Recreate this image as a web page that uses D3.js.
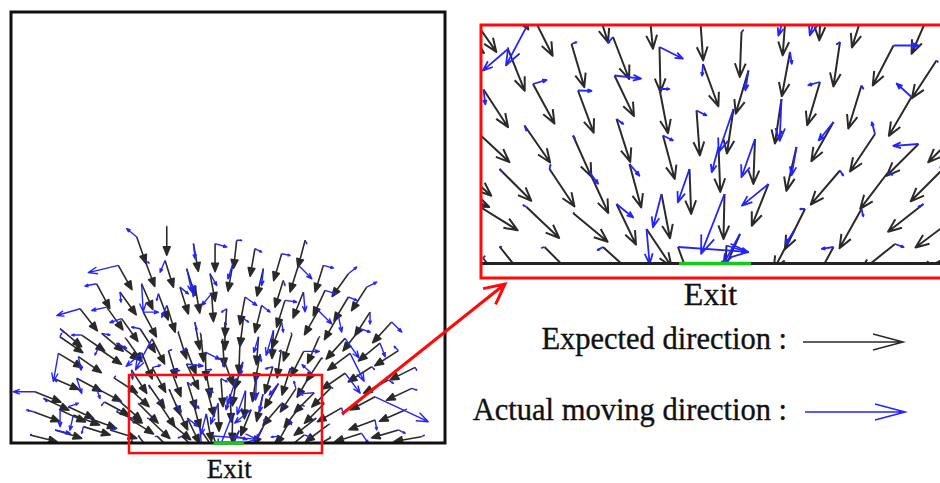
<!DOCTYPE html>
<html>
<head>
<meta charset="utf-8">
<script src="https://cdn.jsdelivr.net/npm/d3@7"></script>
<style>
  body { margin: 0; background: #fff; }
  text { font-family: "Liberation Serif", "Times New Roman", serif; fill: #111; stroke: #111; stroke-width: 0.35px; }
</style>
</head>
<body>
<script>
// Each agent row: [x, y, expectedU, expectedV, actualU, actualV]
// Room units: exit centre at x = 103, wall at y = 0, y grows away from the wall.
// Expected direction is normalised; actual vectors are in units where one expected step = 10.
const agentsNearExitWest = [
  [54.3, 49.7, 35, -50, -0.3, 0.2], [66.7, 49.6, 30, -60, -5.9, -11.1], [61.8, 42.9, 50, -125, -5.6, -4.8],
  [74.5, 43.9, 40, -135, 1.1, 0.4], [82.8, 45.3, 50, -130, -1.1, -1.3], [79.1, 52.8, 30, -95, 0.2, 0.1],
  [89.9, 51.9, 10, -100, -0.2, 0.3], [92.1, 43.3, 3, -135, 5.2, -2.6], [100.2, 49.6, 7, -100, 0.1, -0.2],
  [56.9, 34.8, 75, -115, 0.4, -3.3], [66.8, 35.9, 65, -120, 3.0, 0.9], [75.8, 34.6, 50, -135, 3.0, -0.1],
  [83.1, 37.6, 60, -125, 5.9, -0.7], [92.1, 34.9, 25, -130, 2.2, 0], [100.8, 39.9, 51, -140, -0.2, -2.6],
  [55.5, 26.4, 73, -68, 0.6, 0.6], [65.1, 27.6, 90, -130, 0.4, -1.1], [74.8, 25.6, 60, -135, 0.4, -0.6],
  [78.1, 18.3, 55, -120, 1.9, -2.6], [83.5, 28.9, 40, -125, 1.5, -1.1], [86.1, 19.9, 35, -130, 2.2, -2.6],
  [92.8, 25.6, 35, -130, 2.2, -1.1], [99.5, 30.6, 10, -135, 2.2, -1.1], [98.1, 18.9, 5, -135, -2.6, -7.4],
  [51.7, 19.5, 75, -66, -1.2, 0.6], [60.1, 18.9, 100, -100, 0.4, -0.4], [70.1, 18.9, 80, -120, 0.2, 0.9],
  [56.1, 11.4, 85, -53, 0.8, 0.4], [65.5, 11.3, 95, -90, -0.7, 0.4], [74.8, 10.1, 105, -87, 0.2, 0],
  [83.5, 11.9, 60, -125, 3.7, -3.0], [92.5, 13.9, 25, -130, -1.9, -7.4], [60.1, 3.4, 62, -78, 0.4, -0.1],
  [69.1, 3.3, 70, -70, -0.6, -0.2], [80.8, 3.3, 74, -67, -1.2, -0.7], [89.5, 6.9, 70, -105, 0.7, -7.8],
  [95.8, 3.3, 34, -94, 15.6, -1.1], [56.8, 1.1, 60, -80, 0.4, 0.4]
];

const agentsNearExitEast = [
  [105.1, 13.9, -3, -130, -5.2, -13.3], [109.9, 38.6, -40, -135, -0.7, -4.4], [106.9, 30.9, -20, -135, -3.3, -9.6],
  [103.9, 23.3, 5, -125, -1.5, -5.6], [111.2, 24.9, -5, -135, -3.0, -8.5], [113.9, 15.9, -50, -125, -5.9, -4.8],
  [118.2, 42.3, -25, -135, 0.4, -2.6], [116.5, 32.9, -20, -135, -0.4, -9.3], [119.5, 23.3, -30, -130, -1.1, -6.3],
  [124.2, 36.3, -40, -135, -2.6, -0.7], [126.9, 28.3, -65, -115, -3.3, -4.1], [128.2, 44.3, -20, -135, -0.7, -0.5],
  [132.5, 35.6, -40, -130, 0.4, -0.7], [128.2, 18.6, -90, -105, 0.7, -1.1], [121.2, 10.9, -60, -120, -1.1, 0],
  [119.1, 6.7, -55, -105, -1.9, -3.0], [135.2, 25.9, -80, -120, -0.7, 2.6], [132.5, 10.9, -70, -125, 0.4, -1.6],
  [126.9, 3.3, -60, -110, -2.6, -0.4], [138.9, 43.6, -65, -125, 5.6, 0], [146.1, 50.2, -40, -92, 0.3, 0.3],
  [133.3, 51.8, -30, -95, -0.3, 0.4], [124.5, 53.6, -5, -100, -2.6, -8.9], [117.4, 50.6, -10, -135, -1.7, -5.6],
  [108.5, 46.3, -5, -130, 0.4, 0.4], [147.5, 40.6, -75, -115, 0.3, -0.3], [142.5, 33.3, -70, -120, -3.3, 3.0],
  [143.9, 23.9, -90, -90, -5.6, -0.4], [152.2, 26.6, -95, -95, 0.4, -0.4], [137.7, 18.1, -80, -105, 1.1, -0.4],
  [148.7, 18.8, -85, -85, -0.5, 0.5], [144.9, 11.9, -115, -90, -1.1, -0.7], [139.2, 3.9, -100, -80, 1.9, -0.7],
  [150.5, 8.6, -80, -60, 0.5, 0.3], [151.9, 2.6, -90, -50, -0.4, 0.3], [108.2, 5.9, -40, -90, -3.7, -6.7],
  [105.5, 3.6, -5, -100, 4.8, -1.5]
];

const agentsUpper = [
  [59.4, 98.1, 28, -80, -3.6, 3.0], [63.3, 87.0, 30, -80, 1.5, -1.0], [50.6, 84.6, 45, -80, -10.7, -2.6],
  [40.3, 75.8, 40, -75, -4.2, -0.8], [51.4, 71.9, 50, -70, 0.4, -3.6], [61.7, 75.8, 35, -80, 0.6, -10],
  [62.5, 62.3, 40, -75, 5.4, 0], [32.4, 63.9, 55, -70, -8.3, -2.4], [45.1, 64.7, 50, -70, -5.4, -1.2],
  [22.9, 54.4, 60, -50, 1.2, -1.2], [52.2, 59.2, 50, -70, -4.2, -1.4], [61.0, 54.4, 45, -70, -3.0, 0.6],
  [73.7, 102.8, 0, -85, 0, 0.3], [86.4, 94.9, 15, -85, 0.6, -5.4], [96.7, 94.9, 0, -85, 4.2, -1.2],
  [107.0, 96.5, -10, -90, 1.8, 0], [115.7, 92.5, -15, -85, 2.4, -1.2], [128.4, 90.1, -25, -85, 3.0, -0.6],
  [72.9, 86.9, 25, -80, -1.8, -4.2], [83.2, 83.0, 25, -80, 1.8, -8.3], [94.3, 80.6, 15, -80, 2.4, -4.2],
  [105.2, 85.4, -15, -85, -1.8, -5.4], [119.7, 83.0, -20, -85, -0.6, -6.0], [129.2, 77.4, -25, -80, 0.6, -1.8],
  [69.7, 71.1, 30, -80, -0.6, -2.4], [80.0, 74.2, 25, -80, 3.0, -2.4], [95.1, 71.1, 5, -80, -3.6, -4.2],
  [87.1, 75.0, 15, -85, -0.6, -4.0], [111.0, 69.5, -15, -80, 4.2, -3.0], [102.2, 63.9, -5, -80, -1.8, -1.2],
  [118.9, 65.5, -20, -80, 3.0, -2.4], [130.0, 67.9, -25, -80, 4.2, -0.6], [73.7, 65.5, 25, -80, -1.8, -4.2],
  [110.2, 59.2, -10, -80, 1.8, -1.2], [87.1, 57.6, 15, -85, 0.6, -3.0], [101.4, 57.6, 0, -85, 0.5, -0.8],
  [128.4, 57.6, -30, -80, 0.6, -3.6], [139.6, 96.5, -20, -75, 0.6, -1.2], [136.4, 84.6, -25, -80, 4.8, -4.8],
  [148.3, 84.6, -25, -80, 3.6, -1.0], [160.2, 80.6, -50, -70, 3.0, 2.4], [168.9, 74.2, -45, -70, 3.6, 1.8],
  [149.1, 72.7, -35, -75, 3.6, -1.2], [160.2, 69.5, -45, -75, 3.0, -1.2], [138.8, 71.9, -30, -75, 0.6, -7.1],
  [145.9, 63.1, -40, -70, 4.8, -4.8], [155.4, 60.8, -40, -70, 1.2, -6.0], [170.5, 62.3, -45, -70, 0, -4.2],
  [180.8, 57.6, -55, -60, 3.6, -3.6], [165.8, 54.4, -50, -65, 3.6, -1.2]
];

const agentsWest = [
  [22.8, 50.6, 65, -45, 0.6, 1.2], [33.2, 51.4, 65, -45, -3.6, 0], [42.7, 52.2, 60, -50, 3.0, -0.6],
  [22.1, 42.7, 75, -45, -1.8, -10], [31.6, 41.1, 65, -45, 1.0, -4.8], [41.1, 45.1, 65, -45, -1.2, -2.4],
  [49.8, 47.5, 60, -45, 3.6, -1.8], [10.9, 24.4, 75, -30, -7.7, 0], [19.7, 30.8, 80, -35, 1.2, -1.2],
  [30.8, 30.8, 75, -40, 1.8, -5.4], [40.3, 26.0, 75, -40, 1.2, -3.6], [15.0, 21.3, 75, -35, 1.2, -1.2],
  [26.8, 17.3, 75, -35, 3.6, 1.2], [10.2, 14.9, 80, -30, -2.4, 0.6], [22.9, 15.7, 75, -35, 0, -6.0],
  [29.2, 13.3, 80, -30, -1.2, -5.4], [37.1, 11.7, 80, -30, 0.5, 0.3], [49.8, 14.9, 80, -35, 0.5, 0.5],
  [20.5, 6.2, 80, -25, 5.4, -1.2], [34.0, 7.8, 80, -25, -0.6, -2.4], [8.6, 3.8, 80, -20, 0.5, 0.2],
  [46.7, 6.2, 80, -25, 2.4, 0.6], [48.5, 31.0, 70, -45, 0.6, 0.6], [44.0, 19.5, 75, -40, -1.0, -1.2]
];

const agentsEast = [
  [158.6, 49.8, -50, -55, 5.0, -7.0], [175.3, 47.5, -55, -45, 1.8, -4.8], [161.0, 42.7, -60, -45, 5.0, -10],
  [172.9, 22.0, -65, -35, 19, -8.9], [190.4, 26.0, -85, -40, 1.8, -0.6], [187.2, 15.7, -80, -35, 0.5, 0.3],
  [172.9, 11.0, -80, -30, 0.6, -3.6], [184.0, 6.2, -85, -25, 2.4, -1.2], [166.5, 4.6, -80, -25, 2.4, -3.6],
  [157.0, 16.7, -70, -40, 0.6, -2.4], [179.2, 30.0, -75, -40, 1.8, -1.2], [171.3, 36.3, -70, -45, 1.0, -1.0],
  [158.6, 33.2, -65, -45, 5.4, -7.1], [195.0, 3.0, -85, -15, 1.0, 0.5], [192.0, 36.0, -80, -40, 0.5, -1.0],
  [184.0, 44.0, -70, -45, -1.5, 1.5]
];

const roomSize = [206.2, 205.2];
const exitSpan = [96, 110.4];
const zoomWindowX = [56.6, 148.4];
const zoomWindowY = [0, 47.5];
const zoomMarkerX = [55.7, 147.6];
const zoomMarkerY = [-4.8, 32.4];
const legendLabels = ["Expected direction :", "Actual moving direction :"];

const agents = [].concat(agentsNearExitWest, agentsNearExitEast, agentsUpper, agentsWest, agentsEast);

const W = 940, H = 483;
const svg = d3.select("body").append("svg").attr("width", W).attr("height", H);

const BLACK = "#2a2a2a", BLUE = "#2424ff", GREEN = "#18c818", RED = "#ff0a0a";

// Quiver-style arrow: shaft plus a two-stroke head; closed heads are filled when requested.
function arrowPath(x0, y0, dx, dy, headMax, headWidth, closed) {
  const len = Math.hypot(dx, dy);
  if (len < 0.6) return "";
  const ux = dx / len, uy = dy / len;
  const x1 = x0 + dx, y1 = y0 + dy;
  const h = Math.min(len * 0.3, headMax), w = h * headWidth;
  const bx = x1 - ux * h, by = y1 - uy * h;
  const p = d3.path();
  p.moveTo(x0, y0); p.lineTo(x1, y1);
  p.moveTo(bx - uy * w, by + ux * w); p.lineTo(x1, y1); p.lineTo(bx + uy * w, by - ux * w);
  if (closed) p.closePath();
  return p.toString();
}

function drawField(g, xs, ys, step, opt) {
  const exp = g.append("g").attr("fill", opt.filledHeads ? BLACK : "none").attr("stroke", BLACK)
    .attr("stroke-width", opt.blackWidth).attr("stroke-linejoin", "round");
  exp.selectAll("path").data(agents).join("path")
    .attr("d", a => {
      const n = Math.hypot(a[2], a[3]);
      return arrowPath(xs(a[0]), ys(a[1]), a[2] / n * step, -a[3] / n * step, opt.headMax, 0.4, opt.filledHeads);
    });
  const act = g.append("g").attr("fill", "none").attr("stroke", BLUE)
    .attr("stroke-width", opt.blueWidth).attr("stroke-linejoin", "round");
  act.selectAll("path").data(agents).join("path")
    .attr("d", a => arrowPath(xs(a[0]), ys(a[1]), a[4] / 10 * step, -a[5] / 10 * step, opt.headMax * 1.3, 0.38, false));
}

// ---------- whole room ----------
const xL = d3.scaleLinear().domain([0, roomSize[0]]).range([12, 445]);
const yL = d3.scaleLinear().domain([0, roomSize[1]]).range([443, 12]);

svg.append("clipPath").attr("id", "roomClip").append("rect")
  .attr("x", xL(0)).attr("y", yL(roomSize[1])).attr("width", xL(roomSize[0]) - xL(0)).attr("height", yL(0) - yL(roomSize[1]));

const left = svg.append("g").attr("clip-path", "url(#roomClip)");
drawField(left, xL, yL, 28, { blackWidth: 1.6, blueWidth: 1.4, headMax: 9, filledHeads: true });

svg.append("rect")
  .attr("x", xL(0) - 1).attr("y", yL(roomSize[1])).attr("width", xL(roomSize[0]) - xL(0) + 1).attr("height", yL(0) - yL(roomSize[1]))
  .attr("fill", "none").attr("stroke", "#111").attr("stroke-width", 3);
svg.append("line").attr("x1", xL(exitSpan[0])).attr("x2", xL(exitSpan[1])).attr("y1", yL(0)).attr("y2", yL(0))
  .attr("stroke", GREEN).attr("stroke-width", 3.5);

svg.append("rect")
  .attr("x", xL(zoomMarkerX[0])).attr("y", yL(zoomMarkerY[1]))
  .attr("width", xL(zoomMarkerX[1]) - xL(zoomMarkerX[0])).attr("height", yL(zoomMarkerY[0]) - yL(zoomMarkerY[1]))
  .attr("fill", "none").attr("stroke", RED).attr("stroke-width", 2.5);

svg.append("text").attr("x", xL(103.5)).attr("y", 478).attr("text-anchor", "middle")
  .attr("font-size", 27).text("Exit");

// ---------- magnified view near the exit ----------
const xR = d3.scaleLinear().domain(zoomWindowX).range([482, 941]);
const yR = d3.scaleLinear().domain(zoomWindowY).range([263.5, 26]);

svg.append("clipPath").attr("id", "zoomClip").append("rect")
  .attr("x", 482).attr("y", yR(zoomWindowY[1])).attr("width", 470).attr("height", yR(0) - yR(zoomWindowY[1]));

const right = svg.append("g").attr("clip-path", "url(#zoomClip)");
drawField(right, xR, yR, 45, { blackWidth: 2, blueWidth: 1.8, headMax: 14, filledHeads: false });

svg.append("line").attr("x1", 482).attr("x2", 945).attr("y1", yR(0)).attr("y2", yR(0))
  .attr("stroke", "#222").attr("stroke-width", 3);
svg.append("line").attr("x1", xR(exitSpan[0])).attr("x2", xR(exitSpan[1])).attr("y1", yR(0)).attr("y2", yR(0))
  .attr("stroke", GREEN).attr("stroke-width", 3.5);
svg.append("rect").attr("x", 481).attr("y", 25).attr("width", 480).attr("height", 253)
  .attr("fill", "none").attr("stroke", RED).attr("stroke-width", 3);

svg.append("text").attr("x", xR(102.3)).attr("y", 305).attr("text-anchor", "middle")
  .attr("font-size", 32).text("Exit");

// connector from the marked region to the magnified view
const c0 = [342, 414], c1 = [505, 284];
svg.append("path")
  .attr("d", arrowPath(c0[0], c0[1], c1[0] - c0[0], c1[1] - c0[1], 20, 0.5, false))
  .attr("fill", "none").attr("stroke", RED).attr("stroke-width", 3);

// ---------- legend ----------
const legend = svg.append("g");
const legendRows = [
  { label: legendLabels[0], y: 349, colour: BLACK, x0: 803, ly: 342 },
  { label: legendLabels[1], y: 420, colour: BLUE, x0: 805, ly: 412 }
];
legendRows.forEach(r => {
  legend.append("text").attr("x", 787).attr("y", r.y).attr("text-anchor", "end")
    .attr("font-size", 30.5).text(r.label);
  legend.append("path").attr("d", arrowPath(r.x0, r.ly, 100, 0, 30, 0.27, false))
    .attr("fill", "none").attr("stroke", r.colour).attr("stroke-width", 1.6);
});
</script>
</body>
</html>
